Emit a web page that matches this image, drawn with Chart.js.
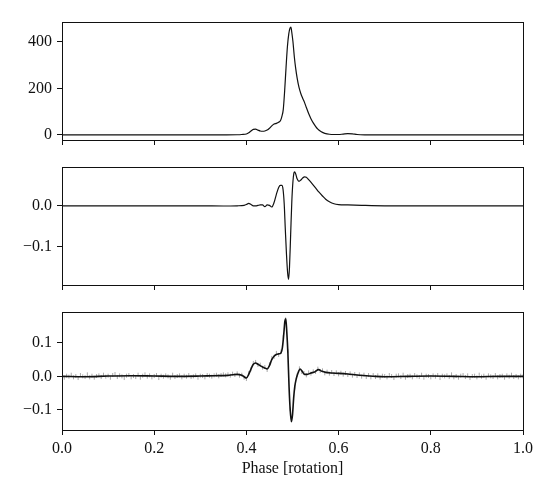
<!DOCTYPE html>
<html>
<head>
<meta charset="utf-8">
<script src="https://cdn.jsdelivr.net/npm/chart.js@4.4.1/dist/chart.umd.min.js"></script>
<style>
  body { margin: 0; background: #fff; }
  .panel { position: absolute; left: 0; }
</style>
</head>
<body>
<div class="panel" style="top:0px"><canvas id="top" width="552" height="156"></canvas></div>
<div class="panel" style="top:150px"><canvas id="mid" width="552" height="151"></canvas></div>
<div class="panel" style="top:295px"><canvas id="bot" width="552" height="205"></canvas></div>
<script>
// shared x ticks
var xTicks = [0, 0.2, 0.4, 0.6, 0.8, 1.0];

// top panel: pulse profile
var topPhase = [0, 0.1, 0.2, 0.3, 0.35, 0.38, 0.39, 0.40, 0.405, 0.41, 0.415, 0.42, 0.425, 0.43, 0.435,
  0.44, 0.445, 0.45, 0.455, 0.46, 0.465, 0.47, 0.474, 0.477, 0.48, 0.483, 0.486, 0.489, 0.492, 0.4945,
  0.4965, 0.4985, 0.501, 0.504, 0.507, 0.51, 0.514, 0.518, 0.522, 0.526, 0.53, 0.535, 0.54, 0.545, 0.55,
  0.555, 0.56, 0.565, 0.57, 0.58, 0.59, 0.60, 0.61, 0.62, 0.63, 0.64, 0.66, 0.7, 0.8, 0.9, 1.0];
var topFlux = [0, 0, 0, 0, 0.3, 1, 2, 4, 9, 17, 24, 25, 21, 17, 16,
  17, 21, 29, 39, 47, 50, 55, 62, 80, 110, 190, 290, 380, 435, 458,
  463, 440, 400, 335, 285, 245, 205, 178, 158, 140, 118, 92, 70, 52, 37,
  25, 17, 11, 7, 3, 2, 2, 4, 6, 5, 2, 0.5, 0, 0, 0, 0];
var topTicks = [0, 200, 400];

// middle panel
var midPhase = [0, 0.1, 0.2, 0.3, 0.35, 0.38, 0.395, 0.40, 0.405, 0.41, 0.415, 0.42, 0.425, 0.43, 0.435,
  0.44, 0.445, 0.45, 0.455, 0.46, 0.465, 0.47, 0.4735, 0.477, 0.4795, 0.482, 0.4845, 0.487, 0.4895, 0.4915,
  0.4935, 0.496, 0.4985, 0.501, 0.503, 0.5045, 0.507, 0.51, 0.514, 0.518, 0.522, 0.526, 0.530, 0.535, 0.542,
  0.55, 0.557, 0.565, 0.572, 0.58, 0.59, 0.60, 0.62, 0.65, 0.7, 0.8, 0.9, 1.0];
var midVal = [0, 0, 0, 0, -0.0005, 0, 0.001, 0.003, 0.006, 0.003, 0, 0, 0.001, 0.002, 0.002,
  -0.002, 0.002, 0.001, -0.003, 0.008, 0.028, 0.045, 0.05, 0.05, 0.04, 0.005, -0.06, -0.12, -0.165, -0.18,
  -0.15, -0.07, 0.01, 0.06, 0.08, 0.083, 0.078, 0.066, 0.06, 0.063, 0.068, 0.071, 0.07, 0.064, 0.055,
  0.044, 0.034, 0.024, 0.016, 0.01, 0.005, 0.003, 0.002, 0.001, 0, 0, 0, 0];
var midTicks = [-0.1, 0.0];

// bottom panel: model line
var botPhase = [0, 0.05, 0.1, 0.15, 0.2, 0.25, 0.3, 0.33, 0.36, 0.37, 0.38, 0.39, 0.395, 0.40, 0.405,
  0.41, 0.415, 0.42, 0.425, 0.43, 0.435, 0.44, 0.445, 0.45, 0.455, 0.46, 0.465, 0.47, 0.475, 0.478,
  0.481, 0.4835, 0.4855, 0.4875, 0.49, 0.4925, 0.495, 0.4975, 0.50, 0.5025, 0.505, 0.508, 0.512, 0.5165, 0.521,
  0.526, 0.532, 0.54, 0.548, 0.5565, 0.564, 0.572, 0.585, 0.60, 0.62, 0.64, 0.66, 0.68, 0.70, 0.75,
  0.8, 0.85, 0.9, 0.95, 1.0];
var botVal = [0, -0.001, 0.001, 0.002, 0.001, 0, 0.001, 0.002, 0.003, 0.005, 0.006, 0.003, -0.001, -0.005, 0.006,
  0.022, 0.036, 0.04, 0.036, 0.032, 0.028, 0.025, 0.022, 0.032, 0.05, 0.06, 0.065, 0.067, 0.07, 0.085,
  0.125, 0.165, 0.172, 0.135, 0.07, -0.03, -0.1, -0.135, -0.115, -0.065, -0.03, -0.008, 0.01, 0.022, 0.015,
  0.006, 0.006, 0.01, 0.013, 0.02, 0.015, 0.012, 0.01, 0.009, 0.007, 0.004, 0.002, 0, -0.001, 0,
  0.001, 0, -0.001, 0, 0];
var botTicks = [-0.1, 0.0, 0.1];

// bottom panel: measured points, one every 0.005 in phase
var dataStep = 0.005;
var dataVal = [
  0.003, -0.004, 0.002, -0.001, 0.005, -0.003, 0.001, -0.005, 0.004, 0.000,
  -0.002, 0.006, -0.003, 0.002, -0.004, 0.001, 0.003, -0.002, 0.005, -0.001,
  0.002, -0.004, 0.004, 0.007, -0.002, 0.003, 0.000, -0.005, 0.002, 0.004,
  -0.003, 0.001, -0.002, 0.005, -0.004, 0.002, 0.006, -0.001, 0.003, -0.003,
  0.001, 0.004, -0.005, 0.002, -0.001, 0.003, 0.000, -0.004, 0.005, -0.002,
  0.001, 0.003, -0.003, 0.002, -0.001, 0.004, -0.002, 0.000, 0.003, -0.004,
  0.002, 0.001, -0.003, 0.004, 0.002, -0.001, 0.003, 0.005, 0.000, 0.004,
  0.006, 0.003,
  0.006, 0.002, 0.008, 0.004, 0.009, 0.002, 0.005, -0.004, -0.008, 0.010,
  0.021, 0.040, 0.043, 0.034, 0.035, 0.026, 0.028, 0.019, 0.036, 0.055,
  0.058, 0.070, 0.064, 0.074, 0.118, 0.170, 0.075, -0.098, -0.118, -0.033,
  0.004, 0.024, 0.013, 0.010, 0.003, 0.012, 0.008, 0.015, 0.013, 0.023,
  0.016, 0.018, 0.009, 0.014, 0.008, 0.013, 0.007, 0.012, 0.006, 0.011,
  0.005, 0.010, 0.004, 0.009, 0.002, 0.007, 0.001, 0.006, -0.001, 0.005,
  -0.002, 0.004, -0.003, 0.004, -0.002, 0.003, -0.004, 0.002, 0.001,
  -0.003, 0.004, 0.001, -0.005, 0.002, 0.003, -0.002, 0.005, -0.004, 0.001,
  0.002, -0.003, 0.004, 0.000, -0.002, 0.005, -0.004, 0.002, 0.001, -0.003,
  0.003, -0.001, 0.004, -0.005, 0.002, 0.000, 0.003, -0.002, 0.006, -0.003,
  0.001, -0.004, 0.002, 0.004, -0.002, 0.003, -0.005, 0.001, 0.002, -0.003,
  0.005, -0.001, 0.002, -0.004, 0.003, 0.000, -0.002, 0.004, -0.003, 0.001,
  0.002, -0.004, 0.003, -0.001, 0.005, -0.002, 0.001, -0.003, 0.002, 0.000
];

Chart.defaults.font.family = "'Liberation Serif', 'DejaVu Serif', serif";
Chart.defaults.font.size = 16;
Chart.defaults.color = '#111';

function pts(xs, ys) {
  return xs.map(function (x, i) { return { x: x, y: ys[i] }; });
}

function fmt(v) {
  return v.toFixed(1).replace('-', '\u2212');
}

// draw the full box around the plot area
var frame = {
  id: 'frame',
  afterDraw: function (chart) {
    var a = chart.chartArea, ctx = chart.ctx;
    var l = Math.round(a.left) + 0.5, t = Math.round(a.top) + 0.5;
    var r = Math.round(a.right) + 0.5, b = Math.round(a.bottom) + 0.5;
    ctx.save();
    ctx.strokeStyle = '#111';
    ctx.lineWidth = 1;
    ctx.strokeRect(l, t, r - l, b - t);
    ctx.restore();
  }
};

function makePanel(id, datasets, yMin, yMax, yTicks, padTop, xHeight, showX, yFmt) {
  return new Chart(document.getElementById(id), {
    type: 'line',
    data: { datasets: datasets },
    options: {
      responsive: false,
      animation: false,
      devicePixelRatio: 1,
      layout: { padding: { left: 0, right: 29, top: padTop, bottom: 0 } },
      plugins: { legend: { display: false }, tooltip: { enabled: false } },
      scales: {
        x: {
          type: 'linear', min: 0, max: 1,
          afterBuildTicks: function (s) { s.ticks = xTicks.map(function (v) { return { value: v }; }); },
          afterFit: function (s) { s.height = xHeight; },
          grid: { drawOnChartArea: false, drawTicks: true, tickLength: 5, tickColor: '#111', tickWidth: 1 },
          border: { display: false },
          ticks: { display: showX, padding: 4, maxRotation: 0, callback: fmt },
          title: {
            display: showX, text: 'Phase [rotation]',
            padding: { top: 0, bottom: 22 }
          }
        },
        y: {
          min: yMin, max: yMax,
          afterBuildTicks: function (s) { s.ticks = yTicks.map(function (v) { return { value: v }; }); },
          afterFit: function (s) { s.width = 62; },
          grid: { drawOnChartArea: false, drawTicks: true, tickLength: 5, tickColor: '#111', tickWidth: 1 },
          border: { display: false },
          ticks: { padding: 5, callback: yFmt }
        }
      }
    },
    plugins: [frame]
  });
}

makePanel('top', [{
  data: pts(topPhase, topFlux),
  borderColor: '#111', borderWidth: 1.2, pointRadius: 0,
  cubicInterpolationMode: 'monotone'
}], -21.6, 485, topTicks, 22, 16, false, function (v) { return String(v); });

makePanel('mid', [{
  data: pts(midPhase, midVal),
  borderColor: '#111', borderWidth: 1.2, pointRadius: 0,
  cubicInterpolationMode: 'monotone'
}], -0.194, 0.095, midTicks, 17, 16, false, fmt);

makePanel('bot', [{
  data: pts(botPhase, botVal),
  borderColor: '#111', borderWidth: 1.6, pointRadius: 0,
  cubicInterpolationMode: 'monotone'
}, {
  data: dataVal.map(function (v, i) { return { x: i * dataStep, y: v }; }),
  showLine: false,
  pointStyle: 'line', rotation: 90, pointRadius: 2,
  borderColor: '#aaaaaa', borderWidth: 1, backgroundColor: '#aaaaaa'
}], -0.16, 0.192, botTicks, 17, 70, true, fmt);
</script>
</body>
</html>
